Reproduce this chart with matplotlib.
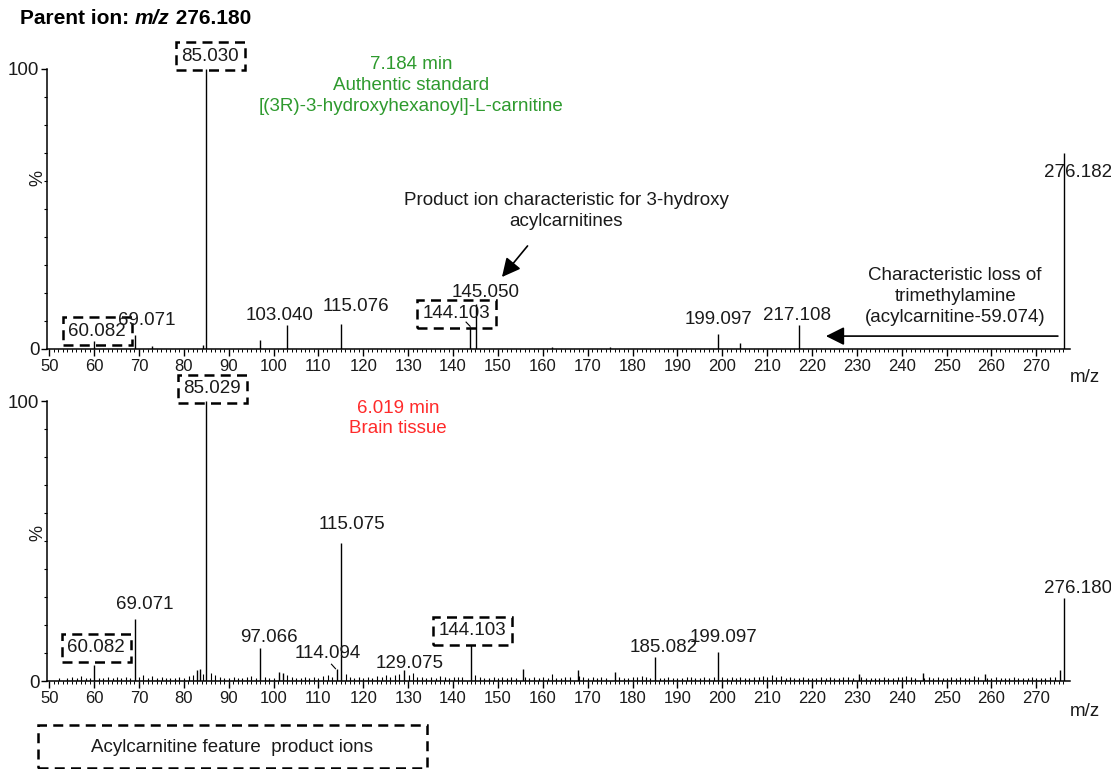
import matplotlib
matplotlib.use('Agg')
import matplotlib.pyplot as plt
from matplotlib import font_manager
from matplotlib.patches import Rectangle

plt.rcParams['font.family'] = ['Liberation Sans', 'DejaVu Sans']
plt.rcParams['font.size'] = 13

# narrow face for the m/z tick labels, if installed
installed = {f.name for f in font_manager.fontManager.ttflist}
NARROW = 'Liberation Sans Narrow' if 'Liberation Sans Narrow' in installed else None

# --- Spectrum data (m/z, relative intensity %) ---
# Authentic standard, 7.184 min
std_mz  = [60.082, 69.071, 72.9, 84.2, 85.030, 97.07, 103.040, 115.076,
           143.8, 145.050, 162.0, 175.0, 199.097, 204.0, 217.108, 276.182]
std_int = [3.0, 5.0, 1.0, 1.5, 100.0, 3.2, 8.5, 9.0,
           8.0, 16.0, 0.8, 0.8, 5.5, 2.2, 8.5, 70.0]

# Brain tissue, 6.019 min: main peaks
brain_mz  = [60.082, 69.071, 82.9, 83.6, 85.029, 97.066, 101.1, 102.0,
             114.094, 115.075, 129.075, 144.103, 155.6, 167.8, 176.1,
             185.082, 199.097, 230.4, 244.7, 258.6, 275.2, 276.180]
brain_int = [5.7, 22.0, 3.8, 4.2, 100.0, 11.8, 3.2, 3.0,
             4.3, 49.3, 4.0, 12.9, 4.3, 4.0, 3.3,
             8.7, 10.5, 2.5, 3.0, 2.5, 4.0, 29.6]

# Brain tissue baseline noise peaks
noise_mz = [52.1, 53.9, 55.0, 56.1, 57.0, 58.1, 59.0, 61.1, 62.0, 63.0, 64.1,
            65.0, 66.0, 67.1, 68.1, 70.1, 71.0, 72.1, 73.0, 74.0, 75.1, 76.0,
            77.0, 78.1, 79.0, 80.0, 81.1, 82.1, 84.2, 86.0, 87.0, 88.1, 89.0,
            90.0, 91.1, 92.0, 93.0, 94.1, 95.0, 96.1, 98.0, 99.0, 100.1, 103.1,
            104.0, 105.0, 106.1, 107.0, 108.0, 109.1, 110.0, 111.0, 112.1, 113.0,
            116.1, 117.0, 118.0, 119.1, 120.0, 121.1, 122.0, 123.0, 124.1, 125.0,
            126.0, 127.1, 128.0, 130.1, 131.0, 132.0, 133.1, 134.0, 135.0, 136.1,
            137.0, 138.1, 139.0, 140.1, 141.0, 142.0, 145.0, 146.1, 147.0, 148.0,
            149.1, 150.0, 151.0, 152.1, 153.0, 154.0, 156.1, 157.0, 158.0, 159.1,
            160.0, 161.1, 162.0, 163.0, 164.1, 165.0, 166.0, 168.1, 169.0, 170.0,
            171.1, 172.0, 173.0, 174.1, 177.0, 178.0, 179.1, 180.0, 181.0, 182.1,
            183.0, 184.0, 186.1, 187.0, 188.0, 189.1, 190.0, 191.0, 192.1, 193.0,
            194.0, 195.1, 196.0, 197.0, 198.1, 200.0, 201.0, 202.1, 203.0, 204.0,
            205.1, 206.0, 207.0, 208.1, 209.0, 210.0, 211.1, 212.0, 213.0, 214.1,
            215.0, 216.0, 217.1, 218.0, 219.0, 220.1, 221.0, 222.0, 223.1, 224.0,
            225.0, 226.1, 227.0, 228.0, 229.1, 231.0, 232.0, 233.1, 234.0, 235.0,
            236.1, 237.0, 238.0, 239.1, 240.0, 241.0, 242.1, 243.0, 245.0, 246.1,
            247.0, 248.0, 249.1, 250.0, 251.0, 252.1, 253.0, 254.0, 255.1, 256.0,
            257.0, 259.1, 260.0, 261.0, 262.1, 263.0, 264.0, 265.1, 266.0, 267.0,
            268.1, 269.0, 270.0, 271.1, 272.0, 273.0, 274.1]
noise_int = [1.0, 1.2, 1.5, 1.0, 1.8, 1.2, 1.0, 1.2, 1.0, 1.3, 1.0,
             1.6, 1.0, 1.4, 1.0, 1.6, 2.2, 1.0, 1.7, 1.0, 1.4, 1.0,
             1.2, 1.0, 1.6, 1.2, 1.8, 2.0, 2.5, 3.0, 2.0, 1.5, 1.2,
             1.0, 1.3, 1.0, 1.2, 1.5, 1.8, 1.2, 1.5, 1.2, 1.0, 2.2,
             1.5, 1.2, 1.0, 1.4, 1.0, 1.5, 1.2, 1.8, 2.0, 1.5,
             2.5, 1.5, 1.2, 1.3, 1.0, 1.5, 1.2, 1.8, 1.3, 2.0,
             1.5, 2.2, 2.5, 2.0, 2.8, 1.5, 1.3, 1.0, 1.5, 1.2,
             1.8, 1.5, 1.2, 1.6, 1.3, 1.5, 2.0, 1.3, 1.0, 1.2,
             1.5, 1.0, 1.3, 1.0, 1.5, 1.2, 1.5, 1.0, 1.3, 1.0,
             1.5, 1.2, 2.5, 1.2, 1.0, 1.5, 1.3, 1.8, 1.5, 1.0,
             1.3, 1.0, 1.5, 1.2, 1.5, 1.2, 1.0, 1.3, 1.5, 1.8,
             1.5, 1.2, 1.2, 1.0, 1.3, 1.0, 1.2, 1.0, 1.3, 1.5,
             1.2, 1.0, 1.5, 1.2, 1.4, 1.5, 1.2, 1.3, 1.0, 1.5,
             1.2, 1.0, 1.4, 1.5, 1.8, 1.5, 2.0, 1.5, 1.8, 1.2,
             1.5, 1.2, 1.0, 1.3, 1.0, 1.2, 1.0, 1.3, 1.0, 1.5,
             1.2, 1.0, 1.3, 1.5, 1.0, 1.5, 1.2, 1.0, 1.2, 1.0,
             1.3, 1.0, 1.2, 1.5, 1.3, 1.8, 1.5, 1.2, 1.0, 1.3,
             1.0, 1.5, 1.2, 1.0, 1.3, 1.0, 1.5, 1.2, 1.0, 1.8,
             1.5, 1.2, 1.0, 1.3, 1.0, 1.2, 1.0, 1.3, 1.0, 1.2,
             1.0, 1.3, 1.0, 1.2, 1.0, 1.3, 1.5]

# Peak labels: (text, label centre m/z, label centre %, boxed)
std_labels = [('85.030', 85.9, 104.6, True), ('60.082', 60.7, 6.4, True),
              ('69.071', 71.7, 10.0, False), ('103.040', 101.4, 12.1, False),
              ('115.076', 118.3, 15.0, False), ('144.103', 140.8, 12.5, True),
              ('145.050', 147.3, 20.0, False), ('199.097', 199.1, 10.4, False),
              ('217.108', 216.7, 11.8, False), ('276.182', 279.4, 63.2, False)]
brain_labels = [('85.029', 86.3, 104.3, True), ('60.082', 60.5, 11.8, True),
                ('69.071', 71.3, 27.5, False), ('97.066', 98.9, 15.4, False),
                ('114.094', 112.0, 10.0, False), ('115.075', 117.5, 56.0, False),
                ('129.075', 130.3, 6.4, False), ('144.103', 144.3, 17.9, True),
                ('185.082', 186.9, 11.8, False), ('199.097', 200.3, 15.4, False),
                ('276.180', 279.4, 33.2, False)]

XMIN, XMAX = 49.5, 277.5
DASH = (0, (4, 2.5))
INK = '#1a1a1a'


def style_axes(ax):
    ax.set_xlim(XMIN, XMAX)
    ax.set_ylim(0, 100)
    for s in ['top', 'right']:
        ax.spines[s].set_visible(False)
    ax.spines['left'].set_linewidth(1.1)
    ax.spines['bottom'].set_linewidth(1.1)
    ax.set_xticks(range(50, 271, 10))
    ax.set_xticks(range(50, 277, 1), minor=True)
    ax.set_yticks([0, 100])
    ax.set_yticks(range(10, 100, 10), minor=True)
    ax.tick_params(axis='x', which='major', length=5, width=1.0, pad=2,
                   labelsize=14 if NARROW else 12, labelcolor=INK)
    ax.tick_params(axis='x', which='minor', length=2.5, width=0.7)
    ax.tick_params(axis='y', which='major', length=4.5, width=1.0, pad=1,
                   labelsize=13.5, labelcolor=INK)
    ax.tick_params(axis='y', which='minor', length=2.5, width=0.8)
    if NARROW:
        for lab in ax.get_xticklabels():
            lab.set_family([NARROW, 'DejaVu Sans'])
    ax.patch.set_alpha(0)


def add_labels(ax, labels):
    for text, x, y, boxed in labels:
        kw = {}
        if boxed:
            kw['bbox'] = dict(boxstyle='square,pad=0.3', fc='none', ec='black',
                              lw=1.8, ls=DASH)
        ax.text(x, y, text, ha='center', va='center', fontsize=13.5,
                color=INK, clip_on=False, **kw)


fig = plt.figure(figsize=(11.11, 7.69), dpi=100)
ax1 = fig.add_axes([0.0423, 0.5462, 0.9208, 0.3641])
ax2 = fig.add_axes([0.0423, 0.1144, 0.9208, 0.3641])

# Top: authentic standard
style_axes(ax1)
ax1.vlines(std_mz, 0, std_int, color='black', lw=1.0)
add_labels(ax1, std_labels)
ax1.plot([142.9, 143.8], [9.6, 8.1], color='black', lw=0.8)
ax1.text(130.6, 94.0, '7.184 min\nAuthentic standard\n[(3R)-3-hydroxyhexanoyl]-L-carnitine',
         ha='center', va='center', color='#2e9a2e', fontsize=13.5, linespacing=1.3,
         clip_on=False)
ax1.text(165.2, 49.3, 'Product ion characteristic for 3-hydroxy\nacylcarnitines',
         ha='center', va='center', fontsize=13.5, color=INK, linespacing=1.3)
ax1.annotate('', xy=(150.9, 25.7), xytext=(156.6, 36.8),
             arrowprops=dict(arrowstyle='-|>', mutation_scale=28, lw=1.2,
                             color='black', shrinkA=0, shrinkB=0))
ax1.text(251.9, 18.6, 'Characteristic loss of\ntrimethylamine\n(acylcarnitine-59.074)',
         ha='center', va='center', fontsize=13.5, color=INK, linespacing=1.3)
ax1.annotate('', xy=(223.1, 4.6), xytext=(274.8, 4.6),
             arrowprops=dict(arrowstyle='-|>', mutation_scale=28, lw=1.2,
                             color='black', shrinkA=0, shrinkB=0))

# Bottom: brain tissue
style_axes(ax2)
ax2.vlines(noise_mz, 0, noise_int, color='black', lw=0.8)
ax2.vlines(brain_mz, 0, brain_int, color='black', lw=1.0)
add_labels(ax2, brain_labels)
ax2.plot([112.9, 113.8], [6.0, 4.4], color='black', lw=0.8)
ax2.text(127.7, 93.75, '6.019 min\nBrain tissue', ha='center', va='center',
         color='#ff2a2a', fontsize=13.5, linespacing=1.3, clip_on=False)

# Axis captions
for yc in [1 - 178 / 769, 1 - 533 / 769]:
    fig.text(38 / 1111, yc, '%', rotation=90, ha='center', va='center',
             fontsize=13, color=INK)
for yc in [1 - 378 / 769, 1 - 712 / 769]:
    fig.text(1085 / 1111, yc, 'm/z', ha='center', va='center', fontsize=13.5,
             color=INK)

# Title: Parent ion: m/z 276.180
fig.canvas.draw()
renderer = fig.canvas.get_renderer()
x0, ty = 20 / 1111, 1 - 18 / 769
for part, style in [('Parent ion: ', 'normal'), ('m/z', 'italic'), (' 276.180', 'normal')]:
    t = fig.text(x0, ty, part, ha='left', va='center', fontsize=15,
                 fontweight='bold', fontstyle=style)
    bb = t.get_window_extent(renderer)
    x0 = bb.x1 / fig.bbox.width

# Legend box for feature ions
fig.patches.append(Rectangle((38 / 1111, 1 / 769), 389 / 1111, 43 / 769,
                             transform=fig.transFigure, fill=False, ec='black',
                             lw=1.8, ls=DASH))
fig.text(232 / 1111, 1 - 748 / 769, 'Acylcarnitine feature  product ions',
         ha='center', va='center', fontsize=13.5, color=INK)

fig.savefig('out.png', dpi=100)
